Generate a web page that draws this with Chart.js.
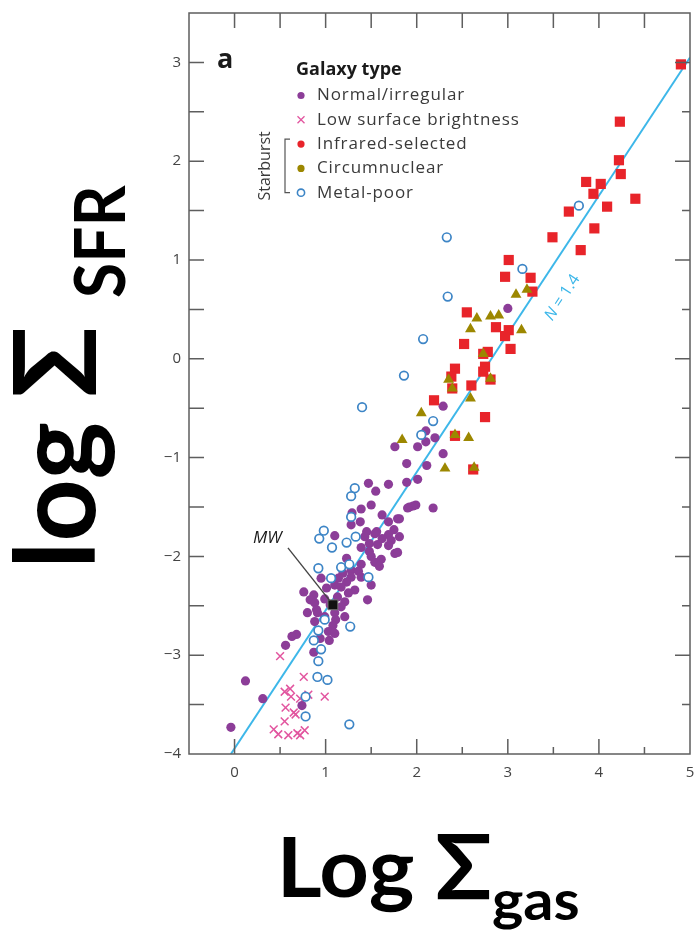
<!DOCTYPE html>
<html>
<head>
<meta charset="utf-8">
<script src="https://cdn.jsdelivr.net/npm/chart.js@4.4.1/dist/chart.umd.min.js"></script>
<style>
  html, body { margin: 0; padding: 0; background: #fff; }
  #wrap { width: 698px; height: 931px; position: relative; }
</style>
</head>
<body>
<div id="wrap"><canvas id="c" width="698" height="931"></canvas></div>
<script>
// Axis tick values
const xTicks = [0, 1, 2, 3, 4, 5];
const yTicks = [-4, -3, -2, -1, 0, 1, 2, 3];

// [log Σgas, log ΣSFR] per galaxy type
const normalIrregular = [
  [3.00,0.51],[2.29,-0.48],[2.10,-0.73],[2.20,-0.80],[2.10,-0.84],[2.01,-0.89],[1.76,-0.89],[2.29,-0.96],
  [1.89,-1.06],[2.11,-1.08],[2.01,-1.22],[1.89,-1.25],[1.69,-1.27],[1.47,-1.26],[1.55,-1.34],
  [1.92,-1.50],[1.99,-1.48],[2.18,-1.51],[1.96,-1.49],[1.90,-1.51],[1.50,-1.48],[1.39,-1.52],[1.29,-1.56],
  [1.62,-1.58],[1.38,-1.65],[1.69,-1.65],[1.79,-1.62],[1.81,-1.62],[1.28,-1.68],[1.75,-1.73],[1.45,-1.75],
  [1.56,-1.75],[1.69,-1.78],[1.43,-1.80],[1.10,-1.79],[1.81,-1.80],[1.62,-1.82],[1.72,-1.84],[1.48,-1.87],
  [1.57,-1.88],[1.69,-1.89],[1.39,-1.91],[1.48,-1.95],[1.76,-1.97],[1.79,-1.96],[1.50,-2.00],[1.23,-2.02],
  [1.61,-2.03],[1.54,-2.06],[1.39,-2.08],[1.59,-2.10],[1.28,-2.14],[1.36,-2.15],[1.19,-2.17],[1.28,-2.21],
  [1.39,-2.21],[1.14,-2.22],[0.95,-2.22],[1.23,-2.26],[1.50,-2.29],[1.10,-2.29],[1.17,-2.31],[1.01,-2.32],
  [1.32,-2.34],[0.76,-2.36],[1.25,-2.37],[0.87,-2.39],[1.13,-2.41],[0.99,-2.43],[0.83,-2.44],[1.46,-2.44],
  [1.21,-2.46],[0.88,-2.47],[1.05,-2.49],[1.17,-2.51],[0.90,-2.54],[0.80,-2.57],[0.91,-2.57],[1.10,-2.57],
  [0.99,-2.61],[1.21,-2.61],[1.11,-2.64],[0.88,-2.66],[1.08,-2.70],[1.03,-2.76],[1.10,-2.78],
  [0.68,-2.79],[0.63,-2.81],[0.94,-2.83],[1.04,-2.85],[0.56,-2.90],[0.87,-2.97],[0.12,-3.26],[0.31,-3.44],
  [0.74,-3.51],[-0.04,-3.73],[1.54,-1.77]
];
const lowSurfaceBrightness = [
  [0.50,-3.01],[0.76,-3.22],[0.61,-3.34],[0.55,-3.37],[0.81,-3.40],[0.99,-3.42],[0.72,-3.44],[0.62,-3.42],
  [0.56,-3.53],[0.65,-3.58],[0.67,-3.60],[0.55,-3.67],[0.43,-3.75],[0.48,-3.80],[0.59,-3.81],[0.69,-3.79],
  [0.77,-3.76],[0.72,-3.81]
];
const infraredSelected = [
  [4.90,2.98],[4.23,2.40],[4.22,2.01],[4.24,1.87],[3.86,1.79],[4.02,1.77],[3.94,1.67],[4.40,1.62],
  [4.09,1.54],[3.67,1.49],[3.95,1.32],[3.49,1.23],[3.80,1.10],[3.01,1.00],[2.97,0.83],[3.25,0.82],
  [3.27,0.68],[2.55,0.47],[2.87,0.32],[3.01,0.29],[2.97,0.23],[2.52,0.15],[3.03,0.10],[2.78,0.07],
  [2.73,0.05],[2.75,-0.08],[2.73,-0.13],[2.42,-0.10],[2.38,-0.18],[2.81,-0.21],[2.39,-0.30],[2.60,-0.27],
  [2.19,-0.42],[2.75,-0.59],[2.42,-0.78],[2.62,-1.12]
];
const circumnuclear = [
  [3.21,0.70],[3.09,0.65],[2.66,0.41],[2.81,0.43],[2.90,0.44],[2.59,0.30],[3.15,0.29],[2.73,0.05],
  [2.35,-0.21],[2.39,-0.30],[2.81,-0.20],[2.59,-0.40],[2.05,-0.55],[2.42,-0.77],[2.57,-0.80],[1.84,-0.82],
  [2.31,-1.11],[2.63,-1.10]
];
const metalPoor = [
  [3.78,1.55],[2.33,1.23],[3.16,0.91],[2.34,0.63],[2.07,0.20],[1.86,-0.17],[1.40,-0.49],[2.18,-0.63],
  [2.05,-0.77],[1.32,-1.31],[1.28,-1.39],[1.28,-1.60],[0.98,-1.74],[0.93,-1.82],[1.07,-1.91],[1.33,-1.80],
  [1.23,-1.86],[0.92,-2.12],[1.17,-2.11],[1.26,-2.08],[1.06,-2.22],[1.47,-2.21],[0.99,-2.64],[0.92,-2.75],
  [0.87,-2.85],[1.27,-2.71],[0.95,-2.94],[0.92,-3.06],[0.91,-3.22],[1.02,-3.25],[0.78,-3.42],[0.78,-3.62],
  [1.26,-3.70]
];
const milkyWay = [[1.08,-2.49]];
// Power-law fit, slope N = 1.4
const fitLine = [[-0.04,-4.0],[5.0,3.05]];

const legendOrder = ['Normal/irregular','Low surface brightness','Infrared-selected','Circumnuclear','Metal-poor'];

const toXY = a => a.map(p => ({ x: p[0], y: p[1] }));
const fmt = v => (v < 0 ? '\u2212' + Math.abs(v) : String(v));

const AXIS = '#5e5e5e';
const TXT = '#3a3a3a';
const TITLE_FONT = 'Lato, "Open Sans", sans-serif';

// Draw text so that its ink spans exactly u0..u1 along the baseline
function inkText(ctx, text, font, u0, u1, base) {
  ctx.font = font;
  const m = ctx.measureText(text);
  const w = m.actualBoundingBoxLeft + m.actualBoundingBoxRight;
  const s = (u1 - u0) / w;
  ctx.save();
  ctx.translate(u0, base);
  ctx.scale(s, 1);
  ctx.fillText(text, m.actualBoundingBoxLeft, 0);
  ctx.restore();
}

const decorations = {
  id: 'decorations',
  afterDatasetsDraw(chart) {
    const { ctx, chartArea: a, scales: { x, y } } = chart;
    ctx.save();
    ctx.strokeStyle = AXIS;
    ctx.lineWidth = 1.5;
    ctx.strokeRect(a.left, a.top, a.right - a.left, a.bottom - a.top);
    ctx.beginPath();
    for (let v = -3.5; v <= 3.01; v += 0.5) {
      const py = y.getPixelForValue(v);
      ctx.moveTo(a.left, py); ctx.lineTo(a.left + 15, py);
      const len = Number.isInteger(v) ? 15 : 8;
      ctx.moveTo(a.right, py); ctx.lineTo(a.right - len, py);
    }
    for (let v = 0; v <= 4.51; v += 0.5) {
      const px = x.getPixelForValue(v);
      ctx.moveTo(px, a.top); ctx.lineTo(px, a.top + 15);
      const len = Number.isInteger(v) ? 15 : 7;
      ctx.moveTo(px, a.bottom); ctx.lineTo(px, a.bottom - len);
    }
    ctx.stroke();
    ctx.restore();
  },
  afterDraw(chart) {
    const { ctx, chartArea: a, scales: { x, y } } = chart;
    ctx.save();
    ctx.fillStyle = '#000';
    ctx.textBaseline = 'alphabetic';
    ctx.textAlign = 'left';

    // Y axis title, reading upwards
    ctx.save();
    ctx.rotate(-Math.PI / 2);
    inkText(ctx, 'log', 'bold 112px ' + TITLE_FONT, -562, -423, 95);
    inkText(ctx, '\u03A3', 'bold 114px ' + TITLE_FONT, -395, -330, 96);
    inkText(ctx, 'SFR', 'bold 71px ' + TITLE_FONT, -297, -185, 125);
    ctx.restore();

    // X axis title
    inkText(ctx, 'Log', 'bold 82px ' + TITLE_FONT, 283, 413, 897);
    inkText(ctx, '\u03A3', 'bold 90px ' + TITLE_FONT, 437, 490, 899);
    inkText(ctx, 'gas', 'bold 56px ' + TITLE_FONT, 493, 578, 920);

    // Panel letter
    ctx.fillStyle = '#1a1a1a';
    ctx.font = 'bold 27px "Open Sans", sans-serif';
    ctx.fillText('a', a.left + 28, a.top + 55);

    // Legend
    const lx = a.left + 112, tx = a.left + 128;
    ctx.font = 'bold 18px "Open Sans", sans-serif';
    ctx.textBaseline = 'middle';
    ctx.fillText('Galaxy type', a.left + 107, a.top + 57);
    ctx.font = '17px "Open Sans", sans-serif';
    ctx.letterSpacing = '0.9px';
    const rowY = i => a.top + 82.5 + i * 24.3;
    legendOrder.forEach((lab, i) => {
      const ds = chart.data.datasets.find(d => d.label === lab);
      const cy = rowY(i);
      ctx.save();
      if (ds.pointStyle === 'crossRot') {
        ctx.strokeStyle = ds.borderColor; ctx.lineWidth = 1.3;
        ctx.beginPath();
        ctx.moveTo(lx - 3.5, cy - 3.5); ctx.lineTo(lx + 3.5, cy + 3.5);
        ctx.moveTo(lx + 3.5, cy - 3.5); ctx.lineTo(lx - 3.5, cy + 3.5);
        ctx.stroke();
      } else if (ds.backgroundColor === '#fff') {
        ctx.strokeStyle = ds.borderColor; ctx.lineWidth = 1.6;
        ctx.beginPath(); ctx.arc(lx, cy, 3.6, 0, Math.PI * 2); ctx.stroke();
      } else {
        ctx.fillStyle = ds.backgroundColor;
        ctx.beginPath(); ctx.arc(lx, cy, 3.6, 0, Math.PI * 2); ctx.fill();
      }
      ctx.restore();
      ctx.fillStyle = TXT;
      ctx.fillText(lab, tx, cy);
    });
    ctx.letterSpacing = '0px';

    // Starburst bracket
    const b0 = rowY(2) - 5, b1 = rowY(4);
    ctx.strokeStyle = '#555';
    ctx.lineWidth = 1.2;
    ctx.beginPath();
    ctx.moveTo(a.left + 101, b0); ctx.lineTo(a.left + 96, b0);
    ctx.lineTo(a.left + 96, b1); ctx.lineTo(a.left + 101, b1);
    ctx.stroke();
    ctx.save();
    ctx.translate(a.left + 76, (b0 + b1) / 2);
    ctx.rotate(-Math.PI / 2);
    ctx.textAlign = 'center';
    ctx.fillStyle = TXT;
    ctx.font = '16px "Open Sans", sans-serif';
    ctx.fillText('Starburst', 0, 0);
    ctx.restore();

    // Slope label along the fit line
    const p0 = fitLine[0], p1 = fitLine[1];
    const slope = (p1[1] - p0[1]) / (p1[0] - p0[0]);
    const ux = x.getPixelForValue(1) - x.getPixelForValue(0);
    const uy = y.getPixelForValue(0) - y.getPixelForValue(1);
    const ang = Math.atan2(-slope * uy, ux);
    ctx.save();
    ctx.translate(x.getPixelForValue(3.6), y.getPixelForValue(0.62));
    ctx.rotate(ang);
    ctx.fillStyle = '#3db7e9';
    ctx.textBaseline = 'middle';
    ctx.font = 'italic 16px "Open Sans", sans-serif';
    const nW = ctx.measureText('N').width;
    ctx.font = '16px "Open Sans", sans-serif';
    const rW = ctx.measureText(' = 1.4').width;
    const start = -(nW + rW) / 2;
    ctx.font = 'italic 16px "Open Sans", sans-serif';
    ctx.fillText('N', start, 0);
    ctx.font = '16px "Open Sans", sans-serif';
    ctx.fillText(' = 1.4', start + nW, 0);
    ctx.restore();

    // Milky Way label and leader
    const mx = x.getPixelForValue(milkyWay[0][0]);
    const my = y.getPixelForValue(milkyWay[0][1]);
    ctx.strokeStyle = '#444';
    ctx.lineWidth = 1.4;
    ctx.beginPath();
    ctx.moveTo(mx - 45, my - 57);
    ctx.lineTo(mx - 3, my - 4);
    ctx.stroke();
    ctx.fillStyle = '#1a1a1a';
    ctx.font = 'italic 17px "Open Sans", sans-serif';
    ctx.textBaseline = 'alphabetic';
    ctx.fillText('MW', mx - 80, my - 62);

    ctx.restore();
  }
};

new Chart(document.getElementById('c'), {
  type: 'scatter',
  data: {
    datasets: [
      { label: 'Milky Way', data: toXY(milkyWay), pointStyle: 'rect', pointRadius: 7,
        backgroundColor: '#111', borderColor: '#777', borderWidth: 1 },
      { label: 'Metal-poor', data: toXY(metalPoor), pointStyle: 'circle', pointRadius: 4.3,
        backgroundColor: '#fff', borderColor: '#3d85c6', borderWidth: 1.7 },
      { label: 'Circumnuclear', data: toXY(circumnuclear), pointStyle: 'triangle', pointRadius: 6.3,
        backgroundColor: '#9c8700', borderColor: '#9c8700', borderWidth: 0 },
      { label: 'Infrared-selected', data: toXY(infraredSelected), pointStyle: 'rect', pointRadius: 7.2,
        backgroundColor: '#e8242a', borderColor: '#e8242a', borderWidth: 0 },
      { label: 'Normal/irregular', data: toXY(normalIrregular), pointStyle: 'circle', pointRadius: 4.6,
        backgroundColor: '#8c3d98', borderColor: '#8c3d98', borderWidth: 0 },
      { label: 'Low surface brightness', data: toXY(lowSurfaceBrightness), pointStyle: 'crossRot', pointRadius: 5.5,
        backgroundColor: '#e2559f', borderColor: '#e2559f', borderWidth: 1.5 },
      { type: 'line', label: 'Fit', data: toXY(fitLine), borderColor: '#3db7e9', borderWidth: 2,
        pointRadius: 0, fill: false, tension: 0 }
    ]
  },
  options: {
    responsive: false,
    devicePixelRatio: 1,
    animation: false,
    events: [],
    layout: { padding: { top: 13, right: 5, left: 0, bottom: 0 } },
    plugins: { legend: { display: false }, tooltip: { enabled: false } },
    scales: {
      x: {
        type: 'linear', min: -0.5, max: 5,
        afterBuildTicks: s => { s.ticks = xTicks.map(v => ({ value: v })); },
        afterFit: s => { s.height = 177; s.paddingLeft = 0; s.paddingRight = 0; },
        grid: { display: false, drawTicks: false },
        border: { display: false },
        ticks: { autoSkip: false, maxRotation: 0, padding: 10, color: '#444',
          font: { family: '"Open Sans", sans-serif', size: 15 }, callback: v => fmt(v) }
      },
      y: {
        type: 'linear', min: -4, max: 3.5,
        afterBuildTicks: s => { s.ticks = yTicks.map(v => ({ value: v })); },
        afterFit: s => { s.width = 189; s.paddingTop = 0; s.paddingBottom = 0; },
        grid: { display: false, drawTicks: false },
        border: { display: false },
        ticks: { autoSkip: false, padding: 8, color: '#444',
          font: { family: '"Open Sans", sans-serif', size: 15 }, callback: v => fmt(v) }
      }
    }
  },
  plugins: [decorations]
});
</script>
</body>
</html>
